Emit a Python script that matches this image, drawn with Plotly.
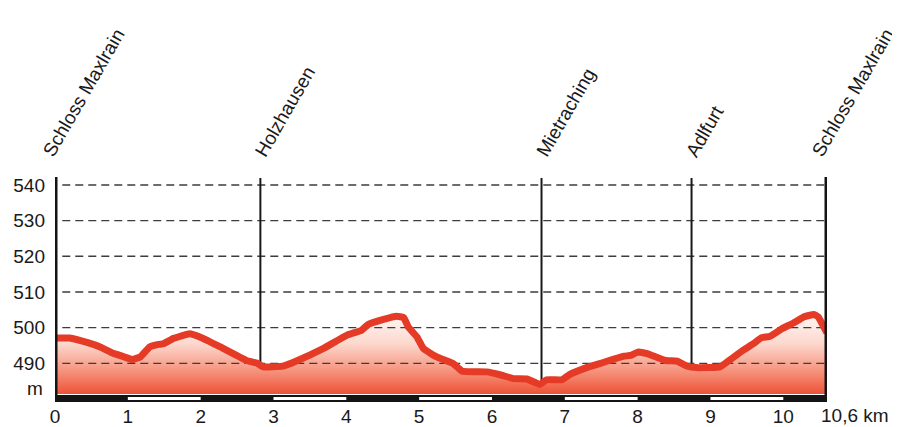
import numpy as np
import plotly.graph_objects as go

# ---- data ----
dist_km = [0, 0.2, 0.45, 0.62, 0.8, 0.95, 1.06, 1.17, 1.3, 1.42, 1.49, 1.63, 1.85, 1.99,
           2.27, 2.63, 2.77, 2.86, 3.13, 3.3, 3.68, 4.01, 4.21, 4.30, 4.51, 4.69, 4.79,
           4.85, 4.97, 5.06, 5.24, 5.47, 5.59, 5.93, 6.11, 6.30, 6.48, 6.66, 6.75, 6.96,
           7.07, 7.30, 7.49, 7.81, 7.90, 8.01, 8.13, 8.38, 8.54, 8.68, 8.81, 9.13, 9.23,
           9.45, 9.59, 9.70, 9.82, 9.98, 10.14, 10.28, 10.42, 10.48, 10.6]
elev_m = [497.1, 497.1, 495.8, 494.6, 492.8, 491.8, 491.1, 491.8, 494.6, 495.3, 495.5, 497.0,
          498.3, 497.4, 494.6, 490.8, 490.1, 489.0, 489.2, 490.5, 494.1, 497.9, 499.3, 500.9,
          502.3, 503.2, 502.8, 500.2, 497.4, 494.1, 491.8, 489.9, 487.8, 487.6, 486.8, 485.7,
          485.6, 484.1, 485.4, 485.4, 486.9, 488.8, 490.0, 492.0, 492.2, 493.2, 492.7, 490.8,
          490.6, 489.2, 488.8, 489.0, 490.4, 493.7, 495.5, 497.2, 497.6, 499.7, 501.3, 503.0,
          503.7, 503.0, 498.5]

place_names = ["Schloss Maxlrain", "Holzhausen", "Mietraching", "Adlfurt", "Schloss Maxlrain"]
place_km = [0, 2.82, 6.68, 8.74, 10.6]

y_ticks = [490, 500, 510, 520, 530, 540]
x_ticks = list(range(0, 11))
total_km = 10.6
total_label = "10,6 km"
unit_label = "m"

# ---- style: per-label horizontal nudge (px) ----
label_xshift = [-19, -12, -12, -12, -22]

# ---- layout geometry (page pixels; the page body adds an 8px offset) ----
OFF = 8
W, H = 900 - OFF, 427 - OFF
L, R, T, B = 55 - OFF, 827 - OFF, 178 - OFF, 394 - OFF
PH = B - T
Y0, Y1 = 481.4, 541.96


def py_to_paper(py_page):
    return (B - (py_page - OFF)) / PH


FONT = "Liberation Sans, Arial, sans-serif"
TXT = "rgb(25,25,25)"
LINE_RED = "rgb(228,58,38)"

fig = go.Figure()

# gradient fill
fig.add_trace(go.Scatter(
    x=dist_km, y=elev_m, mode="lines", line=dict(width=0, color=LINE_RED, shape="spline", smoothing=0.3),
    fill="tozeroy",
    fillgradient=dict(type="vertical", start=Y0, stop=504,
                      colorscale=[[0, "rgb(238,82,55)"], [0.3, "rgb(246,150,128)"],
                                  [0.62, "rgb(252,215,205)"], [1, "rgb(255,249,247)"]]),
    hoverinfo="skip", showlegend=False))

# dashed gridlines (above fill, below profile line)
for yv in y_ticks:
    fig.add_trace(go.Scatter(x=[0.1, total_km], y=[yv, yv], mode="lines",
                             line=dict(color="rgb(60,60,60)", width=1.4, dash="8px,5px"),
                             hoverinfo="skip", showlegend=False))

# place marker lines (from top to profile)
for km in place_km[1:-1]:
    e = float(np.interp(km, dist_km, elev_m))
    fig.add_trace(go.Scatter(x=[km, km], y=[e, Y1], mode="lines",
                             line=dict(color="rgb(25,25,25)", width=2),
                             hoverinfo="skip", showlegend=False))

# profile line
fig.add_trace(go.Scatter(x=dist_km, y=elev_m, mode="lines",
                         line=dict(color=LINE_RED, width=7, shape="spline", smoothing=0.3),
                         hoverinfo="skip", showlegend=False))

shapes = []
# scale bar
bar_top, bar_bot = py_to_paper(395), py_to_paper(402)
shapes.append(dict(type="rect", xref="x", yref="paper", x0=0, x1=total_km,
                   y0=bar_bot, y1=bar_top, fillcolor="rgb(20,20,20)", line=dict(width=0)))
for k in range(1, 11, 2):
    shapes.append(dict(type="rect", xref="x", yref="paper", x0=k, x1=min(k + 1, total_km),
                       y0=py_to_paper(400), y1=py_to_paper(397), fillcolor="white",
                       line=dict(width=0)))
# thick side lines
for xv in (0, total_km):
    shapes.append(dict(type="line", xref="x", yref="paper", x0=xv, x1=xv,
                       y0=bar_bot, y1=py_to_paper(177), line=dict(color="rgb(20,20,20)", width=5)))

annotations = []
for name, km, dx in zip(place_names, place_km, label_xshift):
    annotations.append(dict(x=km, y=1, xref="x", yref="paper", text=name, showarrow=False,
                            textangle=-60, xanchor="left", yanchor="bottom",
                            xshift=dx, yshift=15,
                            font=dict(family=FONT, size=19, color=TXT)))
annotations.append(dict(x=total_km, y=py_to_paper(415), xref="x", yref="paper",
                        text=total_label, showarrow=False, xanchor="left", yanchor="middle",
                        xshift=-8, font=dict(family=FONT, size=19, color=TXT)))
annotations.append(dict(x=0, y=483, xref="paper", yref="y", text=unit_label, showarrow=False,
                        xanchor="right", yanchor="middle", xshift=-10,
                        font=dict(family=FONT, size=19, color=TXT)))

fig.update_layout(
    width=W, height=H,
    margin=dict(l=L, r=W - R, t=T, b=H - B, pad=0, autoexpand=False),
    paper_bgcolor="white", plot_bgcolor="white",
    showlegend=False,
    shapes=shapes, annotations=annotations,
    font=dict(family=FONT, size=19, color=TXT),
    xaxis=dict(range=[0, total_km], tickvals=x_ticks, ticktext=[str(v) for v in x_ticks],
               showgrid=False, zeroline=False, showline=False, ticks="", automargin=False,
               ticklabelstandoff=9, fixedrange=True),
    yaxis=dict(range=[Y0, Y1], tickvals=y_ticks, ticktext=[str(v) for v in y_ticks],
               showgrid=False, zeroline=False, showline=False, ticks="", automargin=False,
               ticklabelstandoff=9, fixedrange=True),
)

fig.write_html("out.html")
